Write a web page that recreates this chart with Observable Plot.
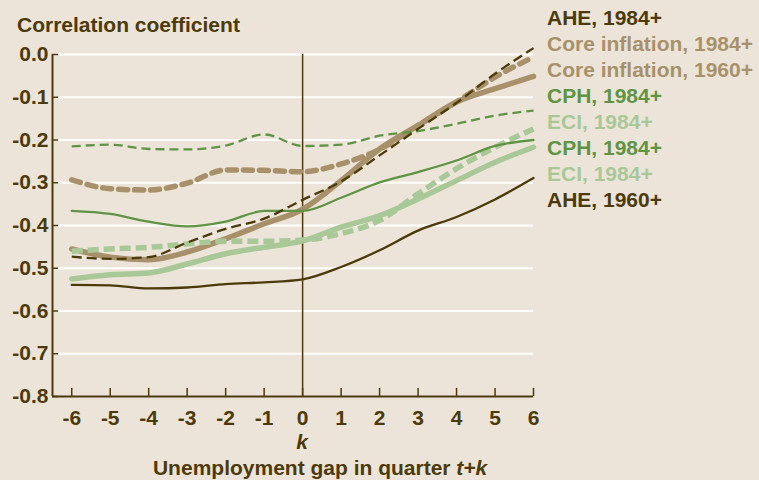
<!DOCTYPE html>
<html>
<head>
<meta charset="utf-8">
<script src="https://cdn.jsdelivr.net/npm/d3@7"></script>
<script src="https://cdn.jsdelivr.net/npm/@observablehq/plot@0.6"></script>
<style>
  html, body { margin: 0; padding: 0; background: #ece4d8; }
  #chart svg { display: block; }
</style>
</head>
<body>
<div id="chart"></div>
<script>
// ---- Data ----
const lags = [-6, -5, -4, -3, -2, -1, 0, 1, 2, 3, 4, 5, 6];
const yTicks = [0, -0.1, -0.2, -0.3, -0.4, -0.5, -0.6, -0.7, -0.8];

const ahe1984  = [-0.473, -0.478, -0.474, -0.440, -0.408, -0.384, -0.340, -0.297, -0.236, -0.174, -0.113, -0.045, 0.015];
const core1984 = [-0.293, -0.314, -0.317, -0.301, -0.270, -0.271, -0.274, -0.256, -0.222, -0.166, -0.111, -0.053, -0.006];
const core1960 = [-0.455, -0.474, -0.480, -0.462, -0.431, -0.396, -0.362, -0.295, -0.221, -0.166, -0.111, -0.080, -0.051];
const cphDash  = [-0.215, -0.211, -0.221, -0.222, -0.213, -0.187, -0.214, -0.211, -0.190, -0.179, -0.162, -0.143, -0.131];
const eciDash  = [-0.460, -0.455, -0.451, -0.443, -0.437, -0.437, -0.434, -0.419, -0.388, -0.326, -0.267, -0.217, -0.174];
const cphSolid = [-0.366, -0.373, -0.391, -0.402, -0.391, -0.366, -0.366, -0.335, -0.299, -0.275, -0.248, -0.214, -0.200];
const eciSolid = [-0.525, -0.515, -0.511, -0.490, -0.466, -0.451, -0.436, -0.404, -0.377, -0.338, -0.295, -0.252, -0.217];
const ahe1960  = [-0.539, -0.540, -0.547, -0.545, -0.537, -0.533, -0.526, -0.497, -0.458, -0.412, -0.380, -0.339, -0.289];

const legendLabels = ["AHE, 1984+", "Core inflation, 1984+", "Core inflation, 1960+", "CPH, 1984+",
                      "ECI, 1984+", "CPH, 1984+", "ECI, 1984+", "AHE, 1960+"];

// ---- Styles ----
const DARK = "#4c3a0a", TAN = "#a8916a", GREEN = "#5e9444", LIGHT = "#a9c898", BG = "#ece4d8";
const legendColors = [DARK, TAN, TAN, GREEN, LIGHT, GREEN, LIGHT, DARK];
const FONT = "'Liberation Sans', Arial, Helvetica, sans-serif";

const series = [
  {values: core1984, stroke: TAN,   width: 5.5, dash: "9,7", cap: "round"},
  {values: core1960, stroke: TAN,   width: 5.5, dash: null,  cap: "round"},
  {values: eciDash,  stroke: LIGHT, width: 5.5, dash: "11,5", cap: "butt"},
  {values: eciSolid, stroke: LIGHT, width: 5.5, dash: null,  cap: "round"},
  {values: cphDash,  stroke: GREEN, width: 2.3, dash: "9,5", cap: "butt"},
  {values: cphSolid, stroke: GREEN, width: 2.3, dash: null,  cap: "round"},
  {values: ahe1984,  stroke: DARK,  width: 2.3, dash: "10,5", cap: "butt"},
  {values: ahe1960,  stroke: DARK,  width: 2.3, dash: null,  cap: "round"}
];

const lineMarks = series.map(s => Plot.line(lags.map((k, i) => ({k, v: s.values[i]})), {
  x: "k", y: "v", stroke: s.stroke, strokeWidth: s.width,
  strokeDasharray: s.dash, strokeLinecap: s.cap, strokeLinejoin: "round",
  curve: "monotone-x"
}));

const X0 = -6.5;  // left edge of the frame (y-axis position)

const plot = Plot.plot({
  width: 759, height: 480,
  marginLeft: 52, marginRight: 226, marginTop: 54, marginBottom: 84,
  x: {domain: [X0, 6]},
  y: {domain: [-0.8, 0]},
  style: {background: BG, fontFamily: FONT, fontSize: "21px", fontWeight: "bold", color: DARK, overflow: "visible"},
  marks: [
    Plot.ruleY(yTicks.filter(d => d !== -0.8), {x1: X0, x2: 6, stroke: "white", strokeWidth: 2}),
    Plot.ruleX([0], {y1: -0.8, y2: 0, stroke: DARK, strokeWidth: 1.5}),
    ...lineMarks,
    Plot.ruleX([X0], {y1: -0.8, y2: 0, stroke: DARK, strokeWidth: 2}),
    Plot.ruleY([-0.8], {x1: X0, x2: 6, stroke: DARK, strokeWidth: 2}),
    Plot.ruleX(lags, {y1: -0.8, y2: -0.781, stroke: DARK, strokeWidth: 1.5}),
    Plot.ruleY(yTicks, {x1: X0, x2: X0 + 0.16, stroke: DARK, strokeWidth: 1.5}),
    Plot.axisY({ticks: yTicks, tickSize: 0, tickPadding: 4, tickFormat: d => d.toFixed(1), label: null, fill: DARK}),
    Plot.axisX({ticks: lags, tickSize: 0, tickPadding: 14, tickFormat: d => String(d), label: null, fill: DARK})
  ]
});

document.getElementById("chart").appendChild(plot);

// ---- Titles and labels ----
const svg = d3.select(plot);
const xs = plot.scale("x");
const text = (x, y, s, fill, anchor = "start") => svg.append("text")
  .attr("x", x).attr("y", y).attr("fill", fill).attr("text-anchor", anchor)
  .attr("font-family", FONT).attr("font-size", 21).attr("font-weight", "bold").text(s);

text(17, 32, "Correlation coefficient", DARK);

text(xs.apply(0), 449, "k", DARK, "middle").attr("font-style", "italic");

const xt = svg.append("text")
  .attr("x", xs.apply(0) + 18).attr("y", 475).attr("fill", DARK).attr("text-anchor", "middle")
  .attr("font-family", FONT).attr("font-size", 21).attr("font-weight", "bold");
xt.append("tspan").text("Unemployment gap in quarter ");
xt.append("tspan").attr("font-style", "italic").text("t+k");

legendLabels.forEach((s, i) => text(547, 25 + i * 25.95, s, legendColors[i]));
</script>
</body>
</html>
